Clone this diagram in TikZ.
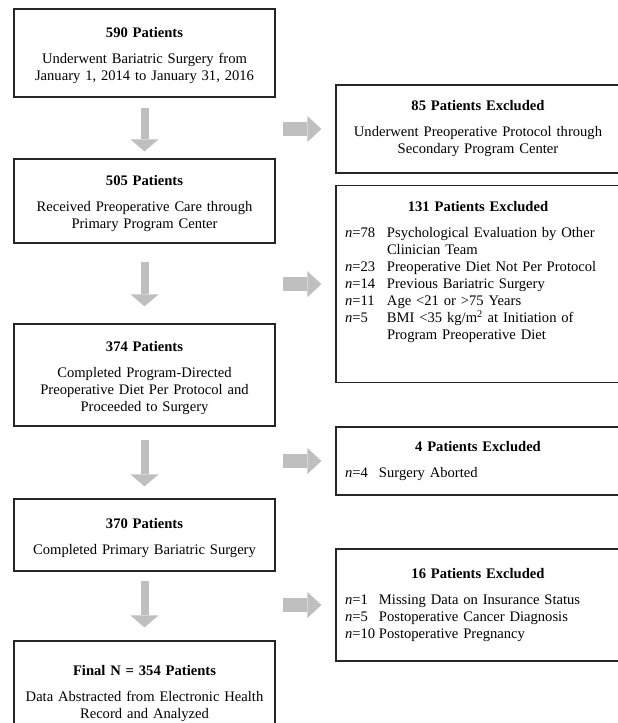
\documentclass[tikz,border=0pt]{standalone}
\usepackage{fontspec}
\setmainfont{Liberation Serif}
\usepackage{tikz}
\usetikzlibrary{arrows.meta}

\begin{document}
\begin{tikzpicture}[
  x=1pt, y=1pt,
  stage/.style={draw=black!85, line width=1.2pt, fill=white, text width=243pt,
    inner xsep=9pt, minimum height=#1, align=center,
    font=\fontsize{14.6}{17}\selectfont,
    execute at begin node={\rule{0pt}{16pt}}},
  excluded/.style={draw=black!85, line width=1.2pt, fill=white, text width=266pt,
    inner xsep=9pt, minimum height=#1, align=center,
    font=\fontsize{14.6}{17}\selectfont},
  downarrow/.style={black!25, line width=8pt,
    -{Triangle[width=28pt, length=12pt, line width=0pt]}},
  sidearrow/.style={black!25, line width=14pt,
    -{Triangle[width=26pt, length=14pt, line width=0pt]}},
]
\useasboundingbox (0,0) rectangle (618,-723);

\node[stage=88pt] (enrolled) at (144.5,-53) {\textbf{590 Patients}\\[9pt]
  Underwent Bariatric Surgery from\\January 1, 2014 to January 31, 2016};
\node[stage=84pt] (primary) at (144.5,-201) {\textbf{505 Patients}\\[9pt]
  Received Preoperative Care through\\Primary Program Center};
\node[stage=102pt] (diet) at (144.5,-375) {\textbf{374 Patients}\\[9pt]
  Completed Program-Directed\\Preoperative Diet Per Protocol and\\Proceeded to Surgery};
\node[stage=72pt] (surgery) at (144.5,-535) {\textbf{370 Patients}\\[9pt]
  Completed Primary Bariatric Surgery};
\node[stage=100pt] (final) at (144.5,-691) {\textbf{Final N = 354 Patients}\\[9pt]
  Data Abstracted from Electronic Health\\Record and Analyzed};

\node[excluded=88pt] (exsecondary) at (478,-129) {\textbf{85 Patients Excluded}\\[9pt]
  Underwent Preoperative Protocol through\\Secondary Program Center};
\node[excluded=0pt, anchor=north, inner ysep=14pt] (excriteria) at (478,-185) {%
  \begin{tabular}{@{}p{42pt}@{}p{224pt}@{}}
    \multicolumn{2}{@{}c@{}}{\textbf{131 Patients Excluded}}\\[9pt]
    \textit{n}=78 & Psychological Evaluation by Other\\
                  & Clinician Team\\
    \textit{n}=23 & Preoperative Diet Not Per Protocol\\
    \textit{n}=14 & Previous Bariatric Surgery\\
    \textit{n}=11 & Age <21 or >75 Years\\
    \textit{n}=5  & BMI <35 kg/m\textsuperscript{2} at Initiation of\\
                  & Program Preoperative Diet
  \end{tabular}\\\rule{0pt}{23pt}};
\node[excluded=68pt] (exaborted) at (478,-461) {%
  \begin{tabular}{@{}p{34pt}@{}p{232pt}@{}}
    \multicolumn{2}{@{}c@{}}{\textbf{4 Patients Excluded}}\\[9pt]
    \textit{n}=4 & Surgery Aborted
  \end{tabular}};
\node[excluded=112pt] (expost) at (478,-605) {%
  \begin{tabular}{@{}p{34pt}@{}p{232pt}@{}}
    \multicolumn{2}{@{}c@{}}{\textbf{16 Patients Excluded}}\\[9pt]
    \textit{n}=1  & Missing Data on Insurance Status\\
    \textit{n}=5  & Postoperative Cancer Diagnosis\\
    \textit{n}=10 & Postoperative Pregnancy
  \end{tabular}};

\draw[downarrow, shorten <=10pt, shorten >=7pt] (enrolled) -- (primary);
\draw[downarrow, shorten <=18pt, shorten >=17pt] (primary) -- (diet);
\draw[downarrow, shorten <=13pt, shorten >=12pt] (diet) -- (surgery);
\draw[downarrow, shorten <=9pt, shorten >=13pt] (surgery) -- (final);

\draw[sidearrow, shorten <=7pt, shorten >=14pt] (exsecondary.west -| enrolled.east) -- (exsecondary.west);
\draw[sidearrow, shorten <=7pt, shorten >=14pt] (excriteria.west -| primary.east) -- (excriteria.west);
\draw[sidearrow, shorten <=7pt, shorten >=14pt] (exaborted.west -| diet.east) -- (exaborted.west);
\draw[sidearrow, shorten <=7pt, shorten >=14pt] (expost.west -| surgery.east) -- (expost.west);
\end{tikzpicture}
\end{document}
